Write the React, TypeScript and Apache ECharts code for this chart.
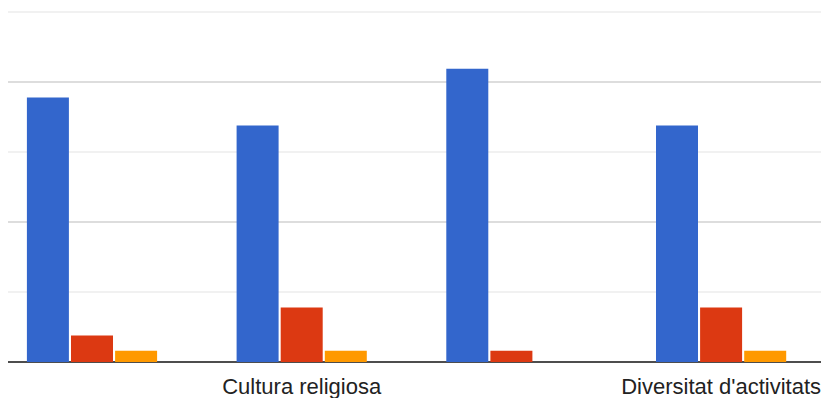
import React, { useEffect, useRef } from "react";
import * as echarts from "echarts";

const categories = ["Categoria 1", "Cultura religiosa", "Categoria 3", "Diversitat d'activitats"];
const seriesBlue = [37.8, 33.8, 41.9, 33.8];
const seriesRed = [3.8, 7.8, 1.6, 7.8];
const seriesOrange = [1.6, 1.6, 0, 1.6];
const seriesNames = ["Sèrie 1", "Sèrie 2", "Sèrie 3"];

export default function App() {
  const ref = useRef<HTMLDivElement>(null);
  useEffect(() => {
    if (!ref.current) return;
    const chart = echarts.init(ref.current, undefined, { renderer: "svg" });
    const bar = (name: string, data: number[], color: string) => ({
      name,
      type: "bar",
      data,
      barWidth: 42,
      barGap: "5%",
      itemStyle: { color },
    });
    chart.setOption({
      animation: false,
      backgroundColor: "#ffffff",
      grid: {
        left: -20.85,
        right: -4.95,
        top: 12,
        bottom: 36,
        outerBoundsMode: "none",
      },
      xAxis: {
        type: "category",
        data: categories,
        axisTick: { show: false },
        axisLine: { show: true, lineStyle: { color: "#4d4d4d", width: 2 } },
        axisLabel: {
          interval: (index: number) => index % 2 === 1,
          margin: 13,
          fontSize: 22,
          color: "#222222",
          fontFamily: "Arial, 'Liberation Sans', sans-serif",
        },
      },
      yAxis: {
        type: "value",
        min: 0,
        max: 50,
        interval: 10,
        axisLabel: { show: false },
        axisLine: { show: false },
        axisTick: { show: false },
        splitLine: {
          show: true,
          lineStyle: { color: ["#d2d2d2", "#ededed"], width: 1.5 },
        },
      },
      series: [
        bar(seriesNames[0], seriesBlue, "#3366cc"),
        bar(seriesNames[1], seriesRed, "#dc3912"),
        bar(seriesNames[2], seriesOrange, "#ff9900"),
      ],
    });
    return () => chart.dispose();
  }, []);
  return (
    <div
      ref={ref}
      style={{
        position: "fixed",
        left: 8,
        top: 0,
        width: 813,
        height: 398,
        overflow: "hidden",
      }}
    />
  );
}
